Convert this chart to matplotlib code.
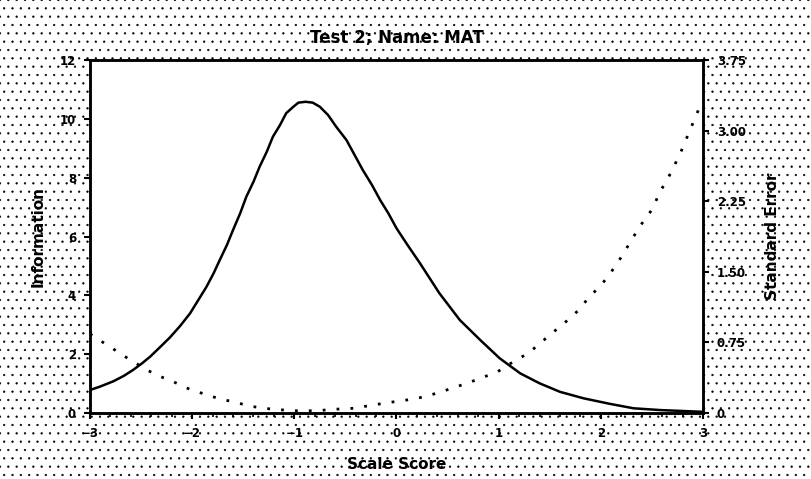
import matplotlib
matplotlib.use("Agg")
import matplotlib.pyplot as plt
from matplotlib.patches import Rectangle
import numpy as np

# ---- data ----
theta_info = [-3.0, -2.90, -2.77, -2.67, -2.58, -2.49, -2.41, -2.32, -2.22, -2.12,
              -2.02, -1.94, -1.86, -1.79, -1.73, -1.66, -1.60, -1.53, -1.47, -1.40,
              -1.34, -1.27, -1.21, -1.14, -1.08, -1.01, -0.96, -0.89, -0.82, -0.75,
              -0.67, -0.59, -0.49, -0.41, -0.33, -0.24, -0.16, -0.08, 0.00, 0.11,
              0.23, 0.42, 0.62, 0.82, 1.01, 1.21, 1.40, 1.60, 1.83, 2.09,
              2.32, 2.58, 3.0]
information = [0.78, 0.90, 1.08, 1.26, 1.46, 1.69, 1.92, 2.22, 2.56, 2.95,
               3.39, 3.84, 4.29, 4.75, 5.20, 5.71, 6.22, 6.79, 7.35, 7.86,
               8.37, 8.88, 9.39, 9.79, 10.19, 10.41, 10.55, 10.58, 10.55, 10.41,
               10.13, 9.73, 9.28, 8.77, 8.26, 7.75, 7.24, 6.79, 6.28, 5.70,
               5.09, 4.07, 3.16, 2.48, 1.86, 1.35, 1.01, 0.72, 0.50, 0.31,
               0.16, 0.10, 0.04]

theta_se = [-3.0, -2.93, -2.80, -2.63, -2.43, -2.32, -2.22, -2.02, -1.79, -1.61,
            -1.40, -1.21, -0.98, -0.78, -0.62, -0.42, -0.23, -0.02, 0.10, 0.28,
            0.49, 0.69, 0.88, 0.99, 1.17, 1.29, 1.48, 1.68, 1.79, 1.89,
            1.99, 2.09, 2.19, 2.28, 2.38, 2.50, 2.58, 2.69, 2.79, 2.89, 2.99]
std_error = [0.84, 0.79, 0.70, 0.58, 0.45, 0.39, 0.35, 0.25, 0.17, 0.12,
             0.067, 0.039, 0.024, 0.024, 0.039, 0.05, 0.085, 0.12, 0.138, 0.173,
             0.244, 0.316, 0.393, 0.439, 0.563, 0.634, 0.81, 0.99, 1.10, 1.24,
             1.34, 1.48, 1.64, 1.80, 1.98, 2.16, 2.35, 2.56, 2.79, 3.05, 3.31]

x_ticks = [-3, -2, -1, 0, 1, 2, 3]
info_ticks = [0, 2, 4, 6, 8, 10, 12]
se_ticks = [0, 0.75, 1.50, 2.25, 3.00, 3.75]
se_tick_labels = ["0", "0.75", "1.50", "2.25", "3.00", "3.75"]

title = "Test 2; Name: MAT"

# ---- figure ----
plt.rcParams['font.family'] = ['DejaVu Sans']
plt.rcParams['hatch.linewidth'] = 0.4
fig = plt.figure(figsize=(8.12, 4.79), dpi=100)
fig.patch.set_facecolor("white")
bg = Rectangle((0, 0), 1, 1, transform=fig.transFigure, facecolor="white",
               edgecolor="black", hatch="..", linewidth=0, zorder=-10)
fig.patches.append(bg)

ax = fig.add_axes([90/812, 1-413/479, (703-90)/812, (413-60)/479])
ax.set_facecolor("white")
ax.plot(theta_info, information, color="black", lw=1.8)
ax.set_xlim(-3, 3)
ax.set_ylim(0, 12)
ax.set_xticks(x_ticks)
ax.set_xticks(np.arange(-3, 3.01, 0.2), minor=True)
ax.set_yticks(info_ticks)
ax.tick_params(axis="both", which="major", direction="out", length=4, width=1.5,
               labelsize=8.5, pad=6)
ax.tick_params(axis="x", which="minor", direction="out", length=3, width=1.2)
for lab in ax.get_xticklabels() + ax.get_yticklabels():
    lab.set_fontweight("bold")
for s in ax.spines.values():
    s.set_linewidth(1.8)

ax.set_xlabel("Scale Score", fontsize=11, fontweight="bold", labelpad=12)
ax.set_ylabel("Information", fontsize=11, fontweight="bold", labelpad=10)
ax.set_title(title, fontsize=12, fontweight="bold", pad=12)

ax2 = ax.twinx()
ax2.plot(theta_se, std_error, color="black", lw=2.0, linestyle=(0, (1, 4)))
ax2.set_ylim(0, 3.75)
ax2.set_yticks(se_ticks)
ax2.set_yticklabels(se_tick_labels, fontweight="bold")
ax2.tick_params(axis="y", direction="out", length=4, width=1.5, labelsize=8.5, pad=6)
ax2.set_ylabel("Standard Error", fontsize=11, fontweight="bold", labelpad=14)
for s in ax2.spines.values():
    s.set_linewidth(1.8)

fig.savefig("out.png", dpi=100, facecolor=fig.get_facecolor())
